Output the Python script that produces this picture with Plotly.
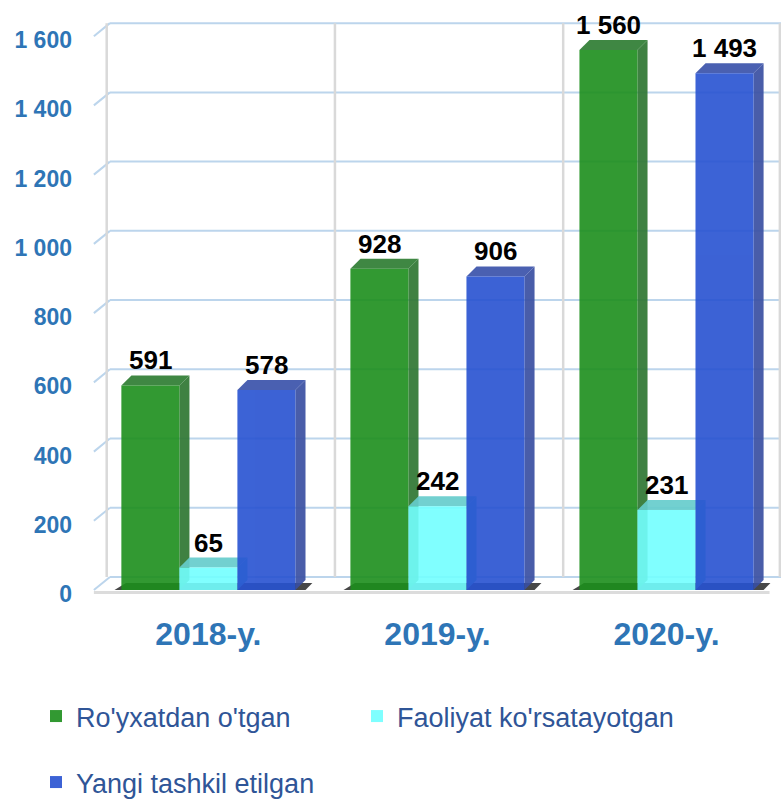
import plotly.graph_objects as go

categories = ["2018-y.", "2019-y.", "2020-y."]
series_names = ["Ro'yxatdan o'tgan", "Faoliyat ko'rsatayotgan", "Yangi tashkil etilgan"]
registered = [591, 928, 1560]
active = [65, 242, 231]
new_created = [578, 906, 1493]
y_ticks = [0, 200, 400, 600, 800, 1000, 1200, 1400, 1600]

series_values = [registered, active, new_created]
front_colors = ["#1c8e1c", "#72ffff", "#2752d1"]
side_colors = ["#2f7632", "#5fcfcf", "#3a4fa2"]
top_colors = ["#2f7d33", "#66cccc", "#3b53aa"]

FONT = "Liberation Sans, Arial, sans-serif"
W, H = 784, 799
BARGAP = 0.24
BW = (1 - BARGAP) / 3          # bar width in x units
DX, DY = 0.044, 29             # bar depth
GX, GY = 0.07, 37.6            # back wall depth

xs = list(range(len(categories)))

def fmt(v):
    return f"{v:,}".replace(",", " ")

fig = go.Figure()
shapes = []
annotations = []

# back-wall gridlines
for v in y_ticks:
    shapes.append(dict(type="line", xref="x", yref="y", x0=-0.5, y0=v, x1=-0.5 + GX, y1=v + GY,
                       line=dict(color="#bcd5ec", width=2), layer="below"))
    shapes.append(dict(type="line", xref="x", yref="y", x0=-0.5 + GX, y0=v + GY, x1=2.5, y1=v + GY,
                       line=dict(color="#bcd5ec", width=2), layer="below"))
# back-wall vertical dividers
for xv in [-0.5 + GX * 0.8, 0.5 + GX * 0.75, 1.5 + GX * 0.7, 2.495]:
    shapes.append(dict(type="line", xref="x", yref="y", x0=xv, y0=GY, x1=xv, y1=y_ticks[-1] + GY,
                       line=dict(color="#d9d9d9", width=2.5), layer="below"))
# floor edge
shapes.append(dict(type="line", xref="x", yref="y", x0=-0.5, y0=-7, x1=2.5 - 0.05, y1=-7,
                   line=dict(color="#dcdcdc", width=3), layer="below"))
# floor shadow under each group
for k in xs:
    gl, gr = k - 1.5 * BW, k + 1.5 * BW
    path = (f"M{gl - 0.03},0 L{gr + DX},0 L{gr + DX + 0.03},{DY * 0.7} "
            f"L{gl + 0.02},{DY * 0.7} Z")
    shapes.append(dict(type="path", xref="x", yref="y", path=path,
                       fillcolor="rgba(40,40,40,0.85)", line=dict(width=0), layer="between"))

for i, (name, vals) in enumerate(zip(series_names, series_values)):
    fig.add_trace(go.Bar(
        x=xs, y=vals, name=name,
        marker=dict(color=front_colors[i], line=dict(width=0)),
        opacity=0.9,
        legend="legend" if i < 2 else "legend2",
        hoverinfo="skip",
    ))
    for k, v in zip(xs, vals):
        c = k + (i - 1) * BW
        x0, x1 = c - BW / 2, c + BW / 2
        side = f"M{x1},0 L{x1 + DX},{DY} L{x1 + DX},{v + DY} L{x1},{v} Z"
        top = f"M{x0},{v} L{x1},{v} L{x1 + DX},{v + DY} L{x0 + DX},{v + DY} Z"
        shapes.append(dict(type="path", xref="x", yref="y", path=side, fillcolor=side_colors[i],
                           opacity=0.92, line=dict(width=0), layer="between"))
        shapes.append(dict(type="path", xref="x", yref="y", path=top, fillcolor=top_colors[i],
                           opacity=0.92, line=dict(width=0), layer="between"))
        annotations.append(dict(x=c, y=v + DY, xref="x", yref="y", text=fmt(v), showarrow=False,
                                yanchor="bottom", xanchor="center", yshift=-2,
                                font=dict(family=FONT, size=26, color="#000000", weight="bold")))

fig.update_layout(
    width=W, height=H, autosize=False,
    paper_bgcolor="white", plot_bgcolor="white",
    margin=dict(l=87, r=3, t=5, b=202, autoexpand=False),
    barmode="group", bargap=BARGAP, bargroupgap=0,
    shapes=shapes, annotations=annotations,
    separators=". ",
    showlegend=True,
    legend=dict(orientation="h", xref="container", yref="container", x=36 / W, y=1 - 692 / H,
                xanchor="left", yanchor="top", entrywidth=276, entrywidthmode="pixels",
                font=dict(family=FONT, size=27, color="#2f5597"), bgcolor="rgba(0,0,0,0)"),
    legend2=dict(orientation="h", xref="container", yref="container", x=36 / W, y=1 - 758 / H,
                 xanchor="left", yanchor="top",
                 font=dict(family=FONT, size=27, color="#2f5597"), bgcolor="rgba(0,0,0,0)"),
)
fig.update_xaxes(range=[-0.53, 2.5], tickvals=xs, ticktext=categories, showgrid=False,
                 zeroline=False, showline=False, ticks="", ticklabelstandoff=15, automargin=False,
                 tickfont=dict(family=FONT, size=32, color="#2e75b6", weight="bold"))
fig.update_yaxes(range=[-20, 1690], tickvals=y_ticks, tickformat=",d", showgrid=False,
                 zeroline=False, showline=False, ticks="", ticklabelstandoff=14, automargin=False,
                 ticklabelshift=4,
                 tickfont=dict(family=FONT, size=23, color="#2e75b6", weight="bold"))

fig.write_html("out.html", config={"displayModeBar": False},
               post_script="document.body.style.margin='0';")
